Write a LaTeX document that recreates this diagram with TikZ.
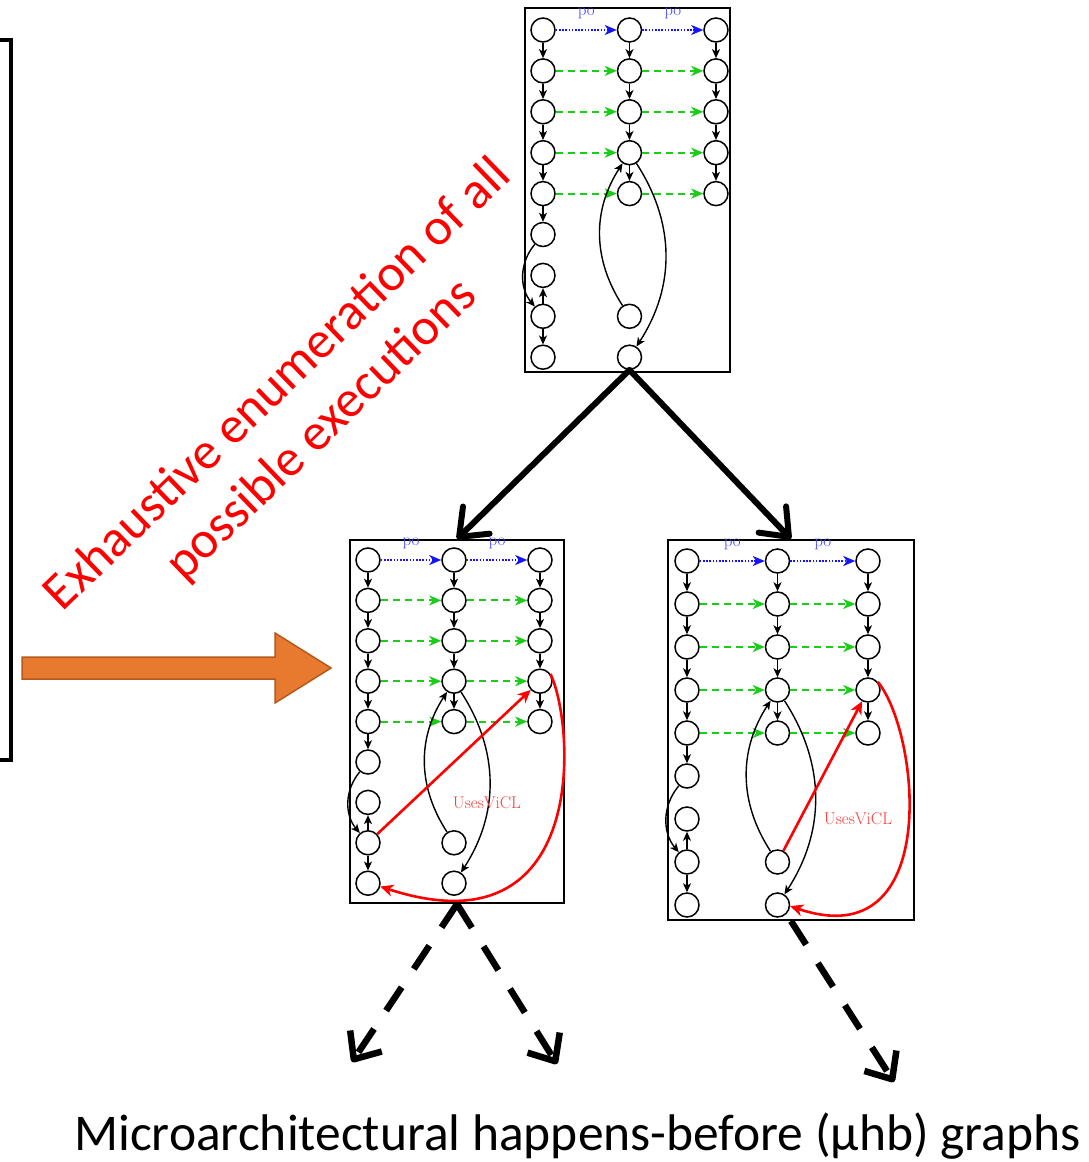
\documentclass[tikz,border=0pt]{standalone}
\usepackage{fontspec}
\newfontfamily\calibri{Carlito}
\usetikzlibrary{arrows.meta,calc}

\definecolor{cogreen}{RGB}{25,205,25}
\definecolor{poblue}{RGB}{20,20,245}
\definecolor{polabel}{RGB}{70,70,255}
\definecolor{vicl}{RGB}{255,60,60}
\definecolor{orangefill}{RGB}{232,122,48}
\definecolor{orangeedge}{RGB}{180,88,30}

\tikzset{
  ev/.style={circle, draw, line width=1.5pt, minimum size=24pt, inner sep=0pt},
  gbox/.style={draw, line width=2pt, inner sep=0pt},
  vt/.style={line width=1.4pt, -{Stealth[length=9pt,width=8pt,inset=2.5pt]}},
  coedge/.style={cogreen, line width=2pt, dash pattern=on 7pt off 5pt,
    -{Stealth[length=12pt,width=10pt,inset=3.5pt]}},
  poedge/.style={poblue, line width=2pt, dash pattern=on 1.6pt off 1.6pt,
    -{Stealth[length=12pt,width=10pt,inset=3.5pt]}},
  polab/.style={midway, above=10pt, inner sep=0pt, text=polabel,
    font=\fontsize{17}{17}\selectfont},
  redarr/.style={red, line width=2.6pt, -{Stealth[length=13pt,width=12pt,inset=4pt]}},
  vicllab/.style={text=vicl, font=\fontsize{17}{17}\selectfont, inner sep=0pt},
  bigarr/.style={line width=6pt, line cap=round,
    -{Straight Barb[length=24pt,width=38pt,line cap=round,line join=round]}},
  dasharr/.style={line width=6.5pt, dash pattern=on 28pt off 22pt,
    -{Straight Barb[length=22pt,width=38pt,line join=round]}},
}

% One execution graph: #1 name prefix, #2 x of first column, #3 y of first row
% (measured downwards), #4 column spacing, #5 row spacing
\newcommand\uhbgraph[5]{%
  \foreach \r in {1,...,9}
    \node[ev] (#1-1-\r) at (#2, {-(#3+(\r-1)*#5)}) {};
  \foreach \r in {1,2,3,4,5,8,9}
    \node[ev] (#1-2-\r) at ({#2+#4}, {-(#3+(\r-1)*#5)}) {};
  \foreach \r in {1,...,5}
    \node[ev] (#1-3-\r) at ({#2+2*#4}, {-(#3+(\r-1)*#5)}) {};
  \draw[poedge] (#1-1-1) -- node[polab]{po} (#1-2-1);
  \draw[poedge] (#1-2-1) -- node[polab]{po} (#1-3-1);
  \foreach \r in {2,...,5} {
    \draw[coedge] (#1-1-\r) -- (#1-2-\r);
    \draw[coedge] (#1-2-\r) -- (#1-3-\r);
  }
  \foreach \r [count=\s from 2] in {1,...,5}
    \draw[vt] (#1-1-\r) -- (#1-1-\s);
  \foreach \r [count=\s from 2] in {1,...,4} {
    \draw[vt] (#1-2-\r) -- (#1-2-\s);
    \draw[vt] (#1-3-\r) -- (#1-3-\s);
  }
  \draw[vt] (#1-1-8) -- (#1-1-7);
  \draw[vt] (#1-1-8) -- (#1-1-9);
  \draw[vt] (#1-1-6) to[bend right=40] (#1-1-8);
  \draw[vt] (#1-2-8) to[bend left=33] (#1-2-4);
  \draw[vt] (#1-2-4) to[bend left=33] (#1-2-9);
}

\begin{document}
\begin{tikzpicture}[x=1pt,y=1pt]
  \useasboundingbox (0,0) rectangle (1089,-1162);
  \fill[white] (0,0) rectangle (1089,-1162);

  % frames of the three graphs
  \node[gbox, minimum width=205pt, minimum height=364pt] (Abox) at (627.5,-190) {};
  \node[gbox, minimum width=214pt, minimum height=363pt] (Bbox) at (457,-721.5) {};
  \node[gbox, minimum width=246pt, minimum height=380pt] (Cbox) at (791,-730) {};

  \uhbgraph{A}{543}{30}{86.5}{40.9}
  \uhbgraph{B}{368}{560}{86}{40.4}
  \uhbgraph{C}{687}{561}{90.5}{43}

  % cache-line reuse edges
  \draw[redarr] (B-1-8) -- (B-3-4);
  \draw[redarr] (B-3-4.35) .. controls ($(B-3-4)+(35,-44)$) and ($(B-1-9)+(222,-72)$) .. (B-1-9.-15);
  \node[vicllab] (Bvicl) at (487,-803) {UsesViCL};
  \draw[redarr] (C-2-8) -- (C-3-4);
  \draw[redarr] (C-3-4.40) .. controls ($(C-3-4)+(52,-43)$) and ($(C-2-9)+(165,-53)$) .. (C-2-9.-5);
  \node[vicllab] (Cvicl) at (858,-819) {UsesViCL};

  % enumeration arrows
  \draw[bigarr] (A-2-9.south) -- (Bbox.north);
  \draw[bigarr] (A-2-9.south) -- (Cbox.north);

  \coordinate (d1) at (352,-1062);
  \coordinate (d2) at (557,-1064);
  \coordinate (d3) at (894,-1082);
  \draw[dasharr] (Bbox.south) -- (d1);
  \draw[dasharr] (Bbox.south) -- (d2);
  \draw[dasharr] (Cbox.south) -- (d3);

  % bracket and orange arrow on the left
  \draw[line width=4.5pt] (-3,-40) -- (11,-40) -- (11,-760) -- (-3,-760);
  \draw[orangeedge, fill=orangefill, line width=1.5pt]
    (22,-657) -- (275,-657) -- (275,-633) -- (331,-668) -- (275,-703)
    -- (275,-679) -- (22,-679) -- cycle;

  \node[text=red, rotate=44, align=center, font=\calibri\fontsize{52}{63}\selectfont]
    (enum) at (300,-408) {Exhaustive enumeration of all\\possible executions};

  \node[anchor=base, font=\calibri\fontsize{51.5}{60}\selectfont] (caption)
    at (577.5,-1150) {Microarchitectural happens-before (μhb) graphs};
\end{tikzpicture}
\end{document}
